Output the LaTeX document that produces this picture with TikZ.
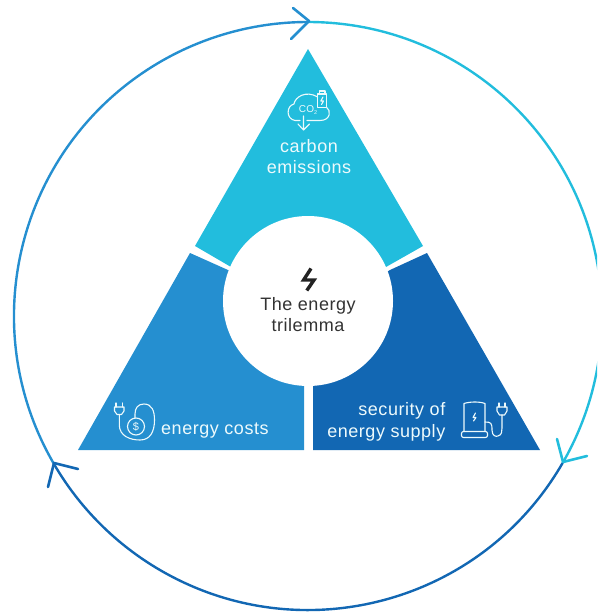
\documentclass[tikz,border=0pt]{standalone}
\usepackage{fontspec}
\setmainfont[LetterSpace=3]{Liberation Sans}
\definecolor{cyanT}{HTML}{22BDDD}
\definecolor{midT}{HTML}{258FD0}
\definecolor{darkT}{HTML}{1267B3}
\definecolor{inkT}{HTML}{333333}
\definecolor{boltT}{HTML}{222222}
\tikzset{
  x=1pt,y=-1pt,
  ring/.style={line width=2.4pt},
  chevron/.style={line width=2.6pt,line cap=round,line join=round},
  icon/.style={draw=white!92!cyanT,line width=1.1pt,line cap=round,line join=round},
  label/.style={text=white!92!cyanT,font=\fontsize{18}{21}\selectfont,inner sep=0pt,align=center},
  supplylabel/.style={text=white!92!cyanT,font=\fontsize{18}{22}\selectfont,inner sep=0pt},
  darklabel/.style={text=inkT,font=\fontsize{18}{21}\selectfont,inner sep=0pt,align=center}
}
\begin{document}
\begin{tikzpicture}
\useasboundingbox (0,0) rectangle (597,612);
\clip (0,0) rectangle (597,612);
\coordinate (ctr) at (308,316);
% triangle sectors
\fill[cyanT] (308,49) -- (423,246) -- (386,267) -- (308,301) -- (231,267) -- (195,246) -- cycle;
\fill[midT] (190,253) -- (78,450) -- (304,450) -- (304,320) -- (228,270) -- cycle;
\fill[darkT] (427,253) -- (540,450) -- (313,450) -- (313,320) -- (390,270) -- cycle;
% centre disc
\fill[white] (308,301) circle[radius=85];
% ring
\draw[ring,cyanT] (308,22) arc[start angle=-90,end angle=30,radius=294];
\draw[ring,darkT] (562.6,463) arc[start angle=30,end angle=150,radius=294];
\draw[ring,midT] (53.4,463) arc[start angle=150,end angle=270,radius=294];
% arrowheads
\draw[chevron,midT] (293,8) -- (309,21) -- (291,39);
\draw[chevron,cyanT] (557,439) -- (563,462) -- (587,456);
\draw[chevron,darkT] (78,469) -- (54,463) -- (48,487);
% texts
\node[label] (carbon) at (309,156.5) {carbon\\emissions};
\node[label,anchor=west] (costs) at (161,430.5) {energy costs};
\node[supplylabel,align=right,anchor=east] (supply) at (445.5,422) {security of\\energy supply};
\node[darklabel] (centre) at (308,314.5) {The energy\\trilemma};
% centre bolt
\draw[boltT,line width=3.4pt,line join=miter] (311,268.5) -- (303.6,280) -- (314,280) -- (306.8,290.5);
% CO2 icon
\draw[icon] (326.7,107.5) .. controls (331,110) and (331,120.5) .. (320,120.5) -- (307,120.5)
  (300,120.5) -- (295,120.5)
  .. controls (286,119) and (286,106) .. (294,104) .. controls (295,97) and (306,90) .. (317.7,97);
\node[text=white!92!cyanT,font=\fontsize{10}{10}\selectfont,inner sep=0pt] (co) at (308,110) {CO\raisebox{-1.5pt}{\fontsize{5.5}{5.5}\selectfont 2}};
\draw[icon] (317.7,94) rectangle (326.7,107.5);
\draw[icon] (319.5,94) -- (319.5,91) -- (325,91) -- (325,94);
\draw[icon] (323,97) -- (320.8,101) -- (323.5,101) -- (321.5,104.5);
\draw[icon] (303.5,116) -- (303.5,130) (298,124) -- (303.5,130) -- (309.5,124);
% cost icon
\draw[icon] (136,426.5) circle[radius=8.5];
\node[text=white!92!cyanT,font=\fontsize{11}{11}\selectfont,inner sep=0pt] (dollar) at (136,426.5) {\$};
\draw[icon] (116,403) -- (116,407) (122.5,403) -- (122.5,407);
\draw[icon] (114.5,407) -- (124,407) -- (124,411) -- (121.5,414.5) -- (117,414.5) -- (114.5,411) -- cycle;
\draw[icon] (119.3,414.5) -- (119.3,425) .. controls (119.5,436) and (130,440) .. (140,440)
  .. controls (150,440) and (154.5,432) .. (154.5,420) .. controls (154.5,411) and (152,404) .. (144,404)
  .. controls (138,404) and (135,408) .. (135,414) -- (135,418);
% supply icon
\draw[icon] (464,431.5) -- (464,403.5) .. controls (470,401.5) and (480,401.5) .. (485,403.5) -- (485,431.5);
\draw[icon,rounded corners=2pt] (461.5,431.5) rectangle (487.5,437.5);
\draw[icon] (475.5,413) -- (473,417.5) -- (476,417.5) -- (473.5,421);
\draw[icon] (485,422) .. controls (491,422) and (492,423) .. (492,430) .. controls (492,436) and (496,437) .. (498,436)
  .. controls (502,435) and (502,431) .. (502,428) -- (502,415);
\draw[icon] (499,403) -- (499,407) (505,403) -- (505,407);
\draw[icon] (497,407) -- (507,407) -- (507,411) -- (504.5,415) -- (499.5,415) -- (497,411) -- cycle;
\end{tikzpicture}
\end{document}
